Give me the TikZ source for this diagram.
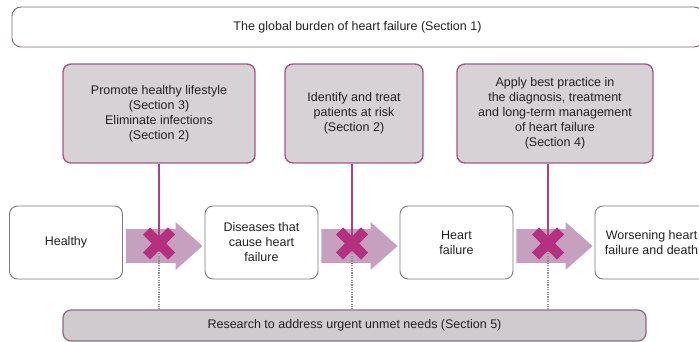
\documentclass[tikz,border=0pt]{standalone}
\usepackage{fontspec}
\setmainfont{Liberation Sans}
\usetikzlibrary{calc}
\definecolor{txt}{HTML}{222022}
\definecolor{grayfill}{HTML}{D6D2D6}
\definecolor{grayborder}{HTML}{A8578A}
\definecolor{resfill}{HTML}{CFCBCF}
\definecolor{resborder}{HTML}{8C6A84}
\definecolor{topborder}{HTML}{756870}
\definecolor{rowborder}{HTML}{7E797E}
\definecolor{arrowc}{HTML}{C6A0BF}
\definecolor{magline}{HTML}{B0407F}
\definecolor{xcol}{HTML}{B5317F}
\definecolor{dotc}{HTML}{8E8A8E}
\begin{document}
\begin{tikzpicture}[x=1pt,y=-1pt,
  lbl/.style={align=center,text=txt,font=\fontsize{12.5}{15}\selectfont,inner sep=0pt},
  topbox/.style={lbl,draw=topborder,line width=0.9pt,rounded corners=9pt},
  graybox/.style={lbl,draw=grayborder,fill=grayfill,line width=1.4pt,rounded corners=8pt,minimum height=99pt},
  rowbox/.style={lbl,draw=rowborder,line width=0.9pt,rounded corners=8pt,minimum width=113pt,minimum height=73pt},
  resbox/.style={lbl,draw=resborder,fill=resfill,line width=1.2pt,rounded corners=8pt},
  vline/.style={draw=magline,line width=2.4pt},
  dotline/.style={draw=dotc,line width=1.6pt,dash pattern=on 1.2pt off 1.2pt},
  xmark/.style={draw=xcol,line width=10pt,line cap=butt},
  blockarrow/.style={fill=arrowc}
]
\clip (0,0) rectangle (699,342);
\node[topbox,minimum width=691pt,minimum height=40pt] (top) at (357.5,27) {The global burden of heart failure (Section 1)};
\node[graybox,minimum width=192pt] (g1) at (159,113.5) {Promote healthy lifestyle\\(Section 3)\\Eliminate infections\\(Section 2)};
\node[graybox,minimum width=138pt] (g2) at (354,113.5) {Identify and treat\\patients at risk\\(Section 2)};
\node[graybox,minimum width=196pt] (g3) at (555,113.5) {Apply best practice in\\the diagnosis, treatment\\and long-term management\\of heart failure\\(Section 4)};
\node[rowbox] (s1) at (66,242.5) {Healthy};
\node[rowbox] (s2) at (261.5,242.5) {Diseases that\\cause heart\\failure};
\node[rowbox] (s3) at (456.5,242.5) {Heart\\failure};
\node[rowbox] (s4) at (651.5,242.5) {Worsening heart\\failure and death};
\node[resbox,minimum width=583pt,minimum height=31pt] (r) at (354.5,325.5) {Research to address urgent unmet needs (Section 5)};
\foreach \a/\b in {s1/s2,s2/s3,s3/s4}{
  \fill[blockarrow] ($(\a.east)+(3,-13.5)$) -- ($(\b.west)+(-29,-13.5)$) -- ($(\b.west)+(-29,-20.5)$)
    -- ($(\b.west)+(-2,3.5)$) -- ($(\b.west)+(-29,27.5)$) -- ($(\b.west)+(-29,20.5)$)
    -- ($(\a.east)+(3,20.5)$) -- cycle;
}
\coordinate (x1) at (159,243.5);
\coordinate (x2) at (352,243.5);
\coordinate (x3) at (548,243.5);
\foreach \g/\x in {g1/x1,g2/x2,g3/x3}{
  \draw[dotline] (\x) -- (\x |- r.north);
  \draw[vline] (\g.south -| \x) -- (\x);
  \draw[xmark] ($(\x)+(-12.5,-12.5)$) -- ($(\x)+(12.5,12.5)$)
               ($(\x)+(-12.5,12.5)$) -- ($(\x)+(12.5,-12.5)$);
}
\end{tikzpicture}
\end{document}
